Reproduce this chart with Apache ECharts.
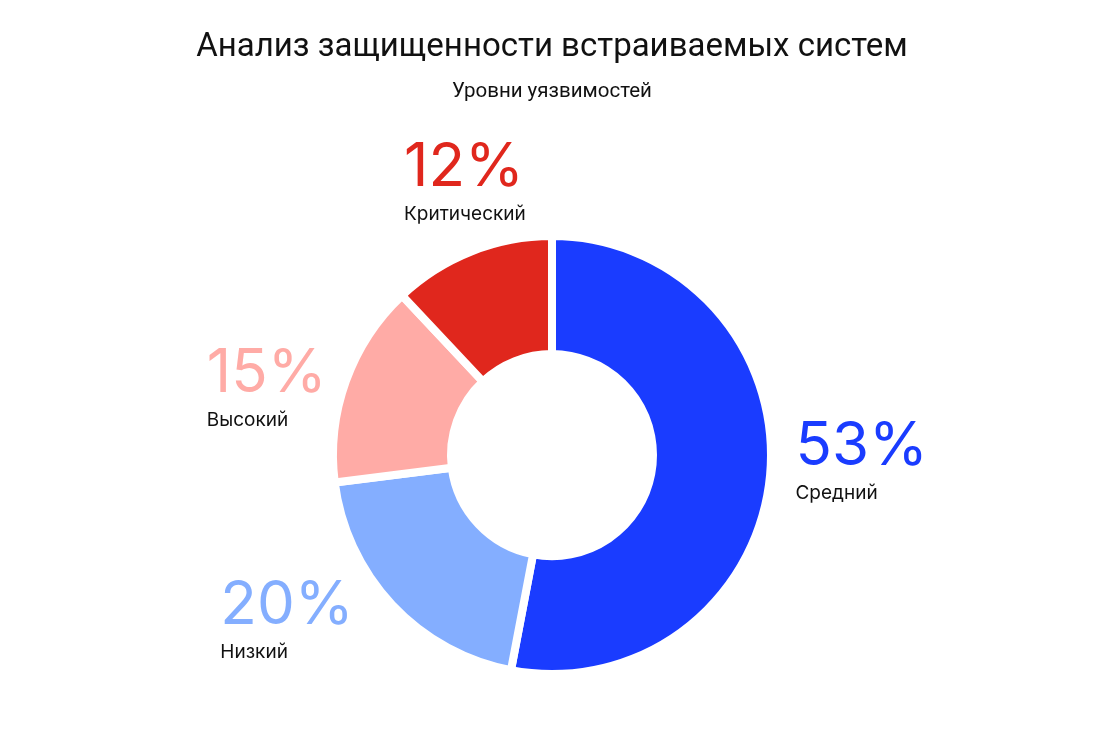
<!DOCTYPE html>
<html>
<head>
<meta charset="utf-8">
<script src="https://cdn.jsdelivr.net/npm/echarts@6/dist/echarts.min.js"></script>
<style>
  html, body { margin: 0; padding: 0; background: #fff; }
  #chart { width: 1104px; height: 756px; }
</style>
</head>
<body>
<div id="chart"></div>
<script>
// уровни уязвимостей
var levels = ["Средний", "Низкий", "Высокий", "Критический"];
var shares = [53, 20, 15, 12];
var colors = ["#1a3cff", "#84aeff", "#ffaba6", "#e0271d"];

var chart = echarts.init(document.getElementById("chart"));

var pieData = levels.map(function (name, i) {
    return {
        name: name,
        value: shares[i],
        itemStyle: { color: colors[i] },
        label: {
            rich: {
                p: { color: colors[i], fontSize: 60, fontFamily: "Inter", fontWeight: 400, lineHeight: 64, align: "left" },
                n: { color: "#111", fontSize: 19, fontFamily: "Inter", fontWeight: 400, lineHeight: 28, align: "left" }
            }
        }
    };
});

// small nudges of the outside labels, per slice
var labelShift = [[7, -22], [-42, -40], [1, 34], [28, 5]];

var option = {
    backgroundColor: "#fff",
    title: [{
        text: "Анализ защищенности встраиваемых систем",
        left: "center",
        top: 26,
        textStyle: { fontFamily: "Roboto", fontSize: 33, fontWeight: 400, color: "#111" }
    }, {
        text: "Уровни уязвимостей",
        left: "center",
        top: 76,
        textStyle: { fontFamily: "Roboto", fontSize: 20.5, fontWeight: 400, color: "#111" }
    }],
    series: [{
        type: "pie",
        center: ["50%", "60.2%"],
        radius: [101, 219],
        startAngle: 90,
        clockwise: true,
        avoidLabelOverlap: false,
        itemStyle: { borderColor: "#fff", borderWidth: 8 },
        label: {
            show: true,
            position: "outside",
            formatter: function (p) {
                return "{p|" + p.value + "%}\n{n|" + p.name + "}";
            }
        },
        labelLine: { show: false, length: 80, length2: 0 },
        labelLayout: function (params) {
            var s = labelShift[params.dataIndex];
            return { align: "center", verticalAlign: "middle", dx: s[0], dy: s[1] };
        },
        emphasis: { disabled: true },
        data: pieData
    }]
};

chart.setOption(option);
</script>
</body>
</html>
